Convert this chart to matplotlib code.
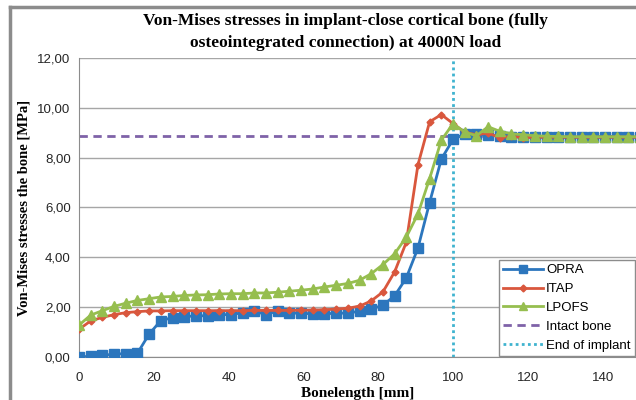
import numpy as np
import matplotlib.pyplot as plt
from matplotlib.lines import Line2D

# bone length positions (mm), one sample every 3.125 mm
bone_len = [i * 3.125 for i in range(49)]

opra = [0.00, 0.03, 0.07, 0.11, 0.14, 0.15, 0.92, 1.46, 1.58, 1.61,
        1.66, 1.65, 1.70, 1.70, 1.78, 1.86, 1.69, 1.86, 1.76, 1.76,
        1.73, 1.73, 1.76, 1.76, 1.84, 1.92, 2.08, 2.45, 3.17, 4.37,
        6.20, 7.94, 8.73, 8.95, 8.93, 8.90, 8.87, 8.84, 8.83, 8.82,
        8.82, 8.82, 8.82, 8.82, 8.82, 8.82, 8.82, 8.82, 8.82]
itap = [1.11, 1.45, 1.59, 1.70, 1.78, 1.82, 1.85, 1.85, 1.86, 1.86,
        1.86, 1.86, 1.86, 1.86, 1.86, 1.87, 1.87, 1.87, 1.87, 1.88,
        1.88, 1.90, 1.92, 1.96, 2.04, 2.25, 2.61, 3.41, 4.60, 7.71,
        9.44, 9.73, 9.37, 9.02, 8.92, 8.99, 8.80, 8.86, 8.80, 8.82,
        8.82, 8.82, 8.82, 8.82, 8.82, 8.82, 8.82, 8.82, 8.82]
lpofs = [1.28, 1.68, 1.86, 2.03, 2.16, 2.27, 2.34, 2.41, 2.43, 2.47,
         2.49, 2.50, 2.53, 2.54, 2.54, 2.57, 2.57, 2.60, 2.64, 2.68,
         2.73, 2.81, 2.88, 2.95, 3.08, 3.34, 3.71, 4.14, 4.81, 5.74,
         7.16, 8.70, 9.36, 9.03, 8.88, 9.24, 9.06, 8.96, 8.92, 8.88,
         8.86, 8.85, 8.84, 8.84, 8.84, 8.84, 8.84, 8.84, 8.84]
intact_bone = 8.87
end_of_implant = 100

c_opra = '#2C76BD'
c_itap = '#D9573D'
c_lpofs = '#96BE4F'
c_intact = '#7F62A8'
c_end = '#3FB3CF'

fig = plt.figure(figsize=(6.36, 4.0), dpi=100)
ax = fig.add_axes([79/636, 43/400, 1 - 79/636, 299/400])

ax.axhline(intact_bone, color=c_intact, lw=2, ls=(0, (3, 2)), zorder=2)
ax.axvline(end_of_implant, color=c_end, lw=2, ls=(0, (1, 1.2)), zorder=2)

ax.plot(bone_len, opra, color=c_opra, lw=2, marker='s', ms=6.5, zorder=3)
ax.plot(bone_len, itap, color=c_itap, lw=2, marker='D', ms=3.5, zorder=4)
ax.plot(bone_len, lpofs, color=c_lpofs, lw=2, marker='^', ms=6.5, zorder=5)

ax.set_xlim(0, (636 - 79) / 3.74)
ax.set_ylim(0, 12)
ax.set_xticks(range(0, 150, 20))
ax.set_yticks(range(0, 13, 2))
ax.set_yticklabels(['%d,00' % v for v in range(0, 13, 2)])
ax.yaxis.grid(True, color='#A6A6A6', lw=1)
ax.set_axisbelow(True)
for s in ['top', 'right']:
    ax.spines[s].set_visible(False)
for s in ['left', 'bottom']:
    ax.spines[s].set_color('#8C8C8C')
ax.tick_params(axis='both', length=0, labelsize=9.5, labelcolor='#262626')
ax.tick_params(axis='y', pad=6)
ax.tick_params(axis='x', pad=11)
for lbl in ax.get_xticklabels() + ax.get_yticklabels():
    lbl.set_family('Liberation Sans')

ax.set_ylabel('Von-Mises stresses the bone [MPa]', family='Liberation Serif',
              fontweight='bold', fontsize=10.5, labelpad=5)
ax.set_xlabel('Bonelength [mm]', family='Liberation Serif',
              fontweight='bold', fontsize=11, labelpad=2)

fig.text(0.543, 0.967, 'Von-Mises stresses in implant-close cortical bone (fully\n'
         'osteointegrated connection) at 4000N load', ha='center', va='top',
         family='Liberation Serif', fontweight='bold', fontsize=12.5,
         linespacing=1.45)

handles = [
    Line2D([], [], color=c_opra, lw=2, marker='s', ms=6),
    Line2D([], [], color=c_itap, lw=2, marker='D', ms=3.5),
    Line2D([], [], color=c_lpofs, lw=2, marker='^', ms=6),
    Line2D([], [], color=c_intact, lw=2, ls=(0, (3, 2))),
    Line2D([], [], color=c_end, lw=2, ls=(0, (1, 1.2))),
]
labels = ['OPRA', 'ITAP', 'LPOFS', 'Intact bone', 'End of implant']
leg = ax.legend(handles, labels, loc='lower right', bbox_to_anchor=(1.0, 0.0),
                prop={'family': 'Liberation Sans', 'size': 9.5}, frameon=True,
                fancybox=False, edgecolor='#8C8C8C', framealpha=1,
                handlelength=3.0, handletextpad=0.25, borderpad=0.35,
                labelspacing=0.5, borderaxespad=0.05)
leg.get_frame().set_linewidth(1)

# outer chart border (left and top edges visible in the crop)
fig.add_artist(Line2D([10/636, 10/636], [0, 1 - 7/400], color='#8C8C8C', lw=2.5,
                      transform=fig.transFigure))
fig.add_artist(Line2D([10/636, 1], [1 - 7/400, 1 - 7/400], color='#8C8C8C', lw=2.5,
                      transform=fig.transFigure))

fig.savefig('out.png', dpi=100)
